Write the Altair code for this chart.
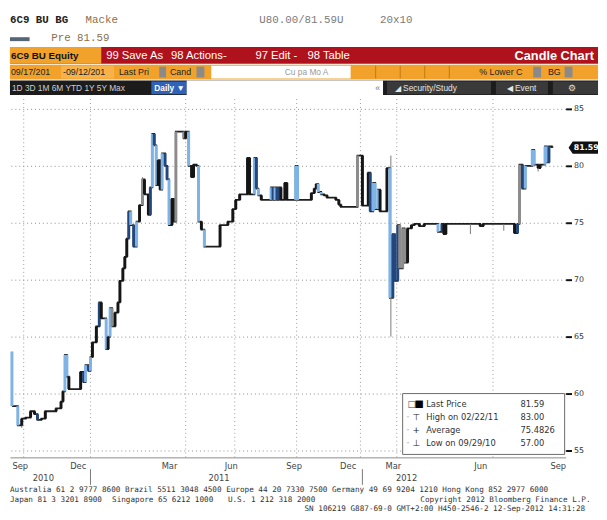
import json
import altair as alt
import pandas as pd

# ---------------- data (session index along the time axis, price in points) ----------------
sessions = [10, 16, 20, 24, 29, 33, 36, 40, 44, 55, 60, 62, 64, 66, 68, 80, 83, 85, 88, 90,
            92, 96, 99, 101, 106, 108, 110, 112, 115, 118, 120, 123, 125, 127, 129, 131, 134, 137, 140, 143,
            145, 149, 151, 153, 155, 157, 159, 161, 163, 166, 168, 170, 173, 175, 177, 185, 187, 190, 193, 195,
            198, 200, 203, 206, 222, 230, 235, 238, 242, 250, 252, 257, 259, 261, 264, 274, 276, 278, 280, 282,
            284, 288, 290, 299, 301, 315, 318, 320, 322, 325, 328, 331, 340, 343, 345, 362, 367, 373, 375, 378,
            380, 383, 385, 392, 395, 398, 400, 403, 405, 408, 410, 413, 417, 420, 425, 430, 444, 448, 450, 452,
            487, 490, 522, 525, 527, 530, 533, 540, 542, 546, 548, 553, 555, 557, 560]
opens = [63.7, 58.9, 57.2, 57.8, 57.9, 58.45, 58.2, 57.7, 57.8, 58.45, 58.7, 59.3, 60.2, 63.4, 61.5, 60.4, 61.9, 61.0, 62.5, 62.0,
         63.2, 64.5, 65.9, 68.0, 66.6, 63.9, 65.0, 67.5, 65.9, 67.1, 68.0, 69.9, 71.0, 72.0, 73.6, 76.0, 74.8, 72.9, 75.1, 76.55,
         78.8, 77.5, 75.7, 78.1, 82.8, 81.8, 78.3, 80.5, 77.9, 81.1, 80.0, 78.8, 74.8, 77.1, 75.1, 83.0, 82.4, 83.0, 80.0, 79.0,
         80.1, 80.0, 75.1, 74.4, 72.9, 74.8, 75.1, 76.2, 77.0, 77.5, 80.7, 77.5, 80.7, 78.0, 77.4, 77.0, 78.1, 77.0, 78.1, 77.0,
         78.1, 77.0, 78.5, 77.0, 80.0, 77.0, 77.6, 78.0, 78.4, 77.7, 77.5, 77.4, 77.2, 77.0, 76.6, 76.4, 80.9, 76.5, 79.4, 76.0,
         78.5, 76.2, 77.9, 76.0, 79.8, 68.4, 74.0, 69.9, 74.8, 71.0, 74.5, 71.5, 74.5, 74.8, 74.9, 74.7, 74.9, 74.2, 74.9, 74.0,
         74.9, 74.7, 74.9, 74.1, 74.9, 80.1, 78.0, 80.0, 81.4, 80.1, 79.8, 80.1, 81.7, 80.3, 81.7]
closes = [58.9, 57.2, 57.8, 57.9, 58.45, 58.2, 57.7, 57.8, 58.45, 58.7, 59.3, 60.2, 63.4, 61.5, 60.4, 61.9, 61.0, 62.5, 62.0, 63.2,
          64.5, 65.9, 68.0, 66.6, 63.9, 65.0, 67.5, 65.9, 67.1, 68.0, 69.9, 71.0, 72.0, 73.6, 76.0, 74.8, 72.9, 75.1, 76.55, 78.8,
          77.5, 75.7, 78.1, 82.8, 81.8, 78.3, 80.5, 77.9, 81.1, 80.0, 78.8, 74.8, 77.1, 75.1, 83.0, 82.4, 83.0, 80.0, 79.0, 80.1,
          80.0, 75.1, 74.4, 72.9, 74.8, 75.1, 76.2, 77.0, 77.5, 80.7, 77.5, 80.7, 78.0, 77.4, 77.0, 78.1, 77.0, 78.1, 77.0, 78.1,
          77.0, 78.5, 77.0, 80.0, 77.0, 77.6, 78.0, 78.4, 77.7, 77.5, 77.4, 77.2, 77.0, 76.6, 76.4, 80.9, 76.5, 79.4, 76.0, 78.5,
          76.2, 77.9, 76.0, 79.8, 68.4, 74.0, 69.9, 74.8, 71.0, 74.5, 71.5, 74.5, 74.8, 74.9, 74.7, 74.9, 74.2, 74.9, 74.0, 74.9,
          74.7, 74.9, 74.1, 74.9, 80.1, 78.0, 80.0, 81.4, 80.1, 79.8, 80.1, 81.7, 80.3, 81.7, 81.59]
tones = ["lt", "lt", "bk", "bk", "bk", "bk", "dk", "bk", "bk", "bk", "bk", "bk", "lt", "lt", "bk", "bk", "dk", "lt", "dk", "lt",
         "bk", "bk", "dk", "bk", "lt", "bk", "lt", "gy", "bk", "bk", "bk", "bk", "bk", "bk", "dk", "lt", "dk", "lt", "bk", "gy",
         "bk", "bk", "dk", "lt", "dk", "lt", "bk", "bk", "lt", "dk", "dk", "lt", "bk", "bk", "gy", "gy", "bk", "lt", "bk", "bk",
         "bk", "lt", "bk", "lt", "bk", "bk", "bk", "bk", "bk", "bk", "bk", "lt", "dk", "lt", "bk", "lt", "dk", "lt", "dk", "dk",
         "bk", "bk", "bk", "lt", "lt", "bk", "bk", "bk", "lt", "lt", "bk", "bk", "bk", "bk", "bk", "gy", "bk", "bk", "dk", "lt",
         "lt", "lt", "bk", "bk", "lt", "dk", "dk", "dk", "gy", "gy", "gy", "bk", "bk", "bk", "bk", "bk", "lt", "dk", "bk", "bk",
         "bk", "bk", "bk", "dk", "gy", "dk", "lt", "lt", "lt", "bk", "bk", "lt", "lt", "dk", "bk"]

wick_sessions = [20, 143, 396, 477, 511, 546]
wick_lows = [57.0, 76.55, 65.0, 74.0, 74.3, 79.5]
wick_highs = [57.8, 79.0, 80.9, 74.9, 74.9, 80.1]

month_ticks = [18, 77, 170, 233, 297, 352, 398, 487, 566]
month_labels = ["Sep", "Dec", "Mar", "Jun", "Sep", "Dec", "Mar", "Jun", "Sep"]
grid_sessions = [22, 90, 187, 237, 300, 365, 402, 500]
year_ticks = [42, 221, 412]
year_labels = ["2010", "2011", "2012"]
year_breaks = [90, 367]
price_ticks = [55, 60, 65, 70, 75, 80, 85]

legend_names = ["Last Price", "High on 02/22/11", "Average", "Low on 09/29/10"]
legend_values = ["81.59", "83.00", "75.4826", "57.00"]
last_price = 81.59

# ---------------- helpers ----------------
one = pd.DataFrame({"k": [0]})
MONO = "Liberation Mono"
SANS = "Liberation Sans"


def T(s, x, y, size=10, color="#000", font=SANS, weight="normal", align="left"):
    return alt.Chart(one).mark_text(text=s, align=align, baseline="middle", fontSize=size,
                                    font=font, color=color, fontWeight=weight).encode(
        x=alt.value(x), y=alt.value(y))


def R(x1, x2, y1, y2, color, stroke=None):
    kw = {"fill": color}
    if stroke:
        kw.update(stroke=stroke, strokeWidth=1)
    return alt.Chart(one).mark_rect(**kw).encode(
        x=alt.value(x1), x2=alt.value(x2), y=alt.value(y1), y2=alt.value(y2))


# ---------------- header (Bloomberg toolbar) ----------------
RED = "#b0121d"
ORG = "#f2a22a"
hdr = [
    T("6C9 BU BG", 0, 8, 11, "#222", MONO, "bold"),
    T("Macke", 77, 8, 11, "#8a6f4c", MONO),
    T("U80.00/81.59U", 254, 8, 11, "#7a7a7a", MONO),
    T("20x10", 377, 8, 11, "#7a7a7a", MONO),
    R(0, 20, 25, 29, "#556677"),
    T("Pre 81.59", 42, 26, 11, "#8a6f4c", MONO),
    R(0, 599, 35, 52, RED),
    R(0, 93, 35, 52, ORG),
    T("6C9 BU Equity", 1, 44, 10, "#111", SANS, "bold"),
    T("99 Save As", 98, 44, 11.5, "#fff", SANS),
    T("98 Actions-", 164, 44, 11.5, "#fff", SANS),
    T("97 Edit  -", 250, 44, 11.5, "#fff", SANS),
    T("98 Table", 303, 44, 11.5, "#fff", SANS),
    T("Candle Chart", 514, 44, 13, "#fff", SANS, "bold"),
    R(0, 599, 53, 68, ORG),
    R(52, 106, 54, 67, "#f7b24a"),
    T("09/17/201", 1, 61, 9, "#222"),
    T("-09/12/201", 54, 61, 9, "#222"),
    T("Last Pri", 111, 61, 9, "#222"),
    R(152, 159, 55, 66, "#8a8a8a"),
    T("Cand", 163, 61, 9, "#222"),
    R(190, 198, 55, 66, "#8a8a8a"),
    R(205, 347, 54, 67, "#ffffff"),
    T("Cu  pa  Mo   A", 280, 61, 8.5, "#9a9a9a"),
    R(372, 373, 54, 67, "#c07a10"),
    R(397, 398, 54, 67, "#c07a10"),
    R(422, 423, 54, 67, "#c07a10"),
    R(447, 448, 54, 67, "#c07a10"),
    T("% Lower C", 478, 61, 9, "#222"),
    R(533, 541, 55, 66, "#8a8a8a"),
    T("BG", 548, 61, 9, "#222"),
    R(565, 573, 55, 66, "#8a8a8a"),
    R(0, 599, 69, 84, "#1c1c1c"),
    T("1D  3D  1M  6M  YTD  1Y  5Y  Max", 2, 77, 8.5, "#cfcfcf"),
    R(144, 180, 70, 83, "#2f62b8"),
    T("Daily ▼", 147, 77, 8.5, "#fff", SANS, "bold"),
    R(180, 380, 69, 84, "#ffffff"),
    T("«", 377, 77, 9, "#777", SANS, "normal", "right"),
    R(384, 490, 70, 83, "#3a3a3a"),
    T("◢ Security/Study", 392, 77, 8.5, "#e6e6e6"),
    R(495, 548, 70, 83, "#3a3a3a"),
    T("◀ Event", 506, 77, 8.5, "#e6e6e6"),
    R(553, 599, 70, 83, "#3a3a3a"),
    T("⚙", 568, 77, 9, "#ddd"),
]
header = alt.layer(*hdr).properties(width=599, height=87)

# ---------------- main price panel ----------------
W, H = 566, 365
xs = alt.Scale(domain=[8, 574], nice=False, zero=False)
ys = alt.Scale(domain=[54.4, 85.86], nice=False, zero=False)

label_expr = f"{json.dumps(month_labels)}[indexof({json.dumps(month_ticks)}, datum.value)]"
xaxis = alt.Axis(values=month_ticks, labelExpr=label_expr, grid=False, ticks=False, domain=True,
                 domainColor="#8a8a8a", labelFontSize=8.5, labelColor="#444", labelPadding=4,
                 labelOverlap=False, labelFlush=False, title=None, labelFont="DejaVu Sans")
yaxis = alt.Axis(orient="right", values=price_ticks, format="d", grid=True, gridDash=[1, 3],
                 gridColor="#8c8c8c", ticks=True, tickSize=6, tickColor="#111", tickWidth=2,
                 domain=False, labelFontSize=8, labelColor="#333", labelPadding=2,
                 labelFlush=False, title=None, labelFont="DejaVu Sans")


def X():
    return alt.X("s:Q", scale=xs, axis=xaxis)


def Y(f):
    return alt.Y(f, scale=ys, axis=yaxis)


candles = pd.DataFrame({"s": sessions, "o": opens, "c": closes, "tone": tones})
wicks = pd.DataFrame({"s": wick_sessions, "lo": wick_lows, "hi": wick_highs})
vgrid = pd.DataFrame({"s": grid_sessions})
years = pd.DataFrame({"s": year_ticks, "t": year_labels})
breaks = pd.DataFrame({"s": year_breaks})
lastdf = pd.DataFrame({"s": [560], "c": [last_price], "t": [f"{last_price:.2f}"]})

grid_layer = alt.Chart(vgrid).mark_rule(color="#9a9a9a", strokeDash=[1, 3], strokeWidth=1).encode(
    x=X(), y=alt.value(0), y2=alt.value(H))
step = alt.Chart(candles).mark_line(interpolate="step-after", color="#1e1e1e", strokeWidth=1.8).encode(
    x=X(), y=Y("c:Q"))
wick_layer = alt.Chart(wicks).mark_rule(color="#7a7a7a", strokeWidth=1).encode(
    x=X(), y=Y("lo:Q"), y2="hi:Q")
body = alt.Chart(candles).mark_rule(strokeWidth=3, strokeCap="butt").encode(
    x=X(), y=Y("o:Q"), y2="c:Q",
    color=alt.Color("tone:N", legend=None,
                    scale=alt.Scale(domain=["lt", "dk", "bk", "gy"],
                                    range=["#7fb3e6", "#23467c", "#151515", "#8c8c8c"])))

tag = alt.Chart(lastdf).mark_point(shape="M-1,0L-0.72,-0.42L1,-0.42L1,0.42L-0.72,0.42Z",
                                   filled=True, color="#111", size=900, opacity=1).encode(
    x=alt.value(W + 18), y=Y("c:Q"))
tag_text = alt.Chart(lastdf).mark_text(color="#fff", fontSize=8, fontWeight="bold", font="DejaVu Sans",
                                       align="center", baseline="middle").encode(
    x=alt.value(W + 21), y=Y("c:Q"), text="t:N")

year_text = alt.Chart(years).mark_text(fontSize=8.5, color="#444", font="DejaVu Sans", baseline="middle").encode(
    x=X(), y=alt.value(H + 21), text="t:N")
year_sep = alt.Chart(breaks).mark_rule(color="#777", strokeWidth=1).encode(
    x=X(), y=alt.value(H + 12), y2=alt.value(H + 28))

# legend box
LX, LY = 400, 300
legend_layers = [R(LX, LX + 165, LY, LY + 62, "#ffffff", "#6a6a6a")]
row_y = [LY + 11, LY + 24, LY + 37, LY + 50]
legend_layers += [
    T("□", LX + 5, row_y[0], 9, "#444", "DejaVu Sans"),
    T("■", LX + 12, row_y[0], 10, "#000", "DejaVu Sans"),
    T("⊤", LX + 10, row_y[1], 9, "#222", "DejaVu Sans"),
    T("+", LX + 10, row_y[2], 9, "#222", "DejaVu Sans"),
    T("⊥", LX + 10, row_y[3], 9, "#222", "DejaVu Sans"),
]
for yy in row_y[1:]:
    legend_layers.append(T("-", LX + 4, yy, 8, "#999", "DejaVu Sans"))
for name, val, yy in zip(legend_names, legend_values, row_y):
    legend_layers.append(T(name, LX + 24, yy, 8.5, "#333", "DejaVu Sans"))
    legend_layers.append(T(val, LX + 120, yy, 8.5, "#333", "DejaVu Sans"))

FM = "DejaVu Sans Mono"
footer = [
    T("Australia 61 2 9777 8600 Brazil 5511 3048 4500 Europe 44 20 7330 7500 Germany 49 69 9204 1210 Hong Kong 852 2977 6000",
      0, H + 33, 7.8, "#333", FM),
    T("Japan 81 3 3201 8900", 0, H + 43, 7.8, "#333", FM),
    T("Singapore 65 6212 1000", 104, H + 43, 7.8, "#333", FM),
    T("U.S. 1 212 318 2000", 222, H + 43, 7.8, "#333", FM),
    T("Copyright 2012 Bloomberg Finance L.P.", 418, H + 43, 7.8, "#333", FM),
    T("SN 106219 G887-69-0 GMT+2:00 H450-2546-2 12-Sep-2012 14:31:28", 300, H + 53, 7.8, "#333", FM),
]

main = alt.layer(grid_layer, step, wick_layer, body, tag, tag_text, year_text, year_sep,
                 *legend_layers, *footer).properties(width=W, height=H)

chart = alt.vconcat(header, main, spacing=0).properties(padding=0, background="white").configure_view(
    stroke=None)

chart.save("out.html", embed_options={"renderer": "svg", "actions": False})
